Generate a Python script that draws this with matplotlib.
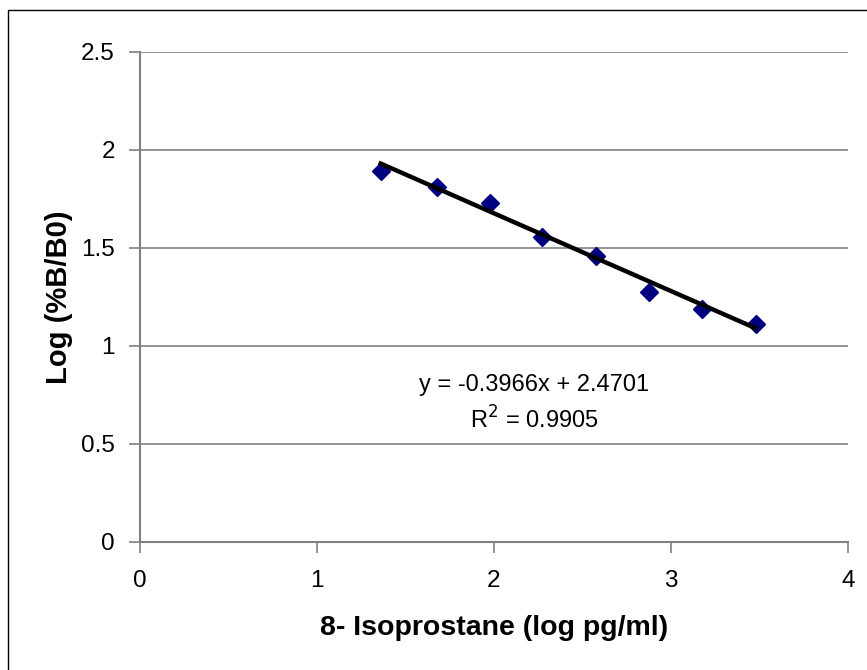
import numpy as np
import matplotlib.pyplot as plt
from matplotlib.patches import Rectangle

plt.rcParams['font.family'] = ['Liberation Sans', 'DejaVu Sans']

# standard curve points (log conc vs log %B/B0)
log_conc = [1.36, 1.68, 1.977, 2.269, 2.576, 2.877, 3.175, 3.48]
log_bb0 = [1.894, 1.813, 1.728, 1.558, 1.459, 1.277, 1.190, 1.111]

slope = -0.3966
intercept = 2.4701
r2 = 0.9905

x_ticks = [0, 1, 2, 3, 4]
y_ticks = [0, 0.5, 1, 1.5, 2, 2.5]

fig = plt.figure(figsize=(8.67, 6.70), dpi=100)
ax = fig.add_axes([140/867, 1 - 542/670, 708/867, 490/670])

# outer chart border (runs off the right / bottom edges)
fig.patches.append(Rectangle((8/867, -0.05), 1.0, 1 - 10/670 + 0.05,
                             transform=fig.transFigure, fill=False,
                             edgecolor='black', linewidth=1.0))

grey = '#808080'
for y in y_ticks[1:]:
    ax.axhline(y, color=grey, linewidth=1.2, zorder=0)

ax.plot(log_conc, log_bb0, linestyle='none', marker='D', markersize=9,
        color='#000080', zorder=2)

xf = np.array([log_conc[0], log_conc[-1]])
ax.plot(xf, slope * xf + intercept, color='black', linewidth=3.2, zorder=3)

ax.set_xlim(0, 4)
ax.set_ylim(0, 2.5)
ax.set_xticks(x_ticks)
ax.set_yticks(y_ticks)
ax.set_xticklabels([str(v) for v in x_ticks])
ax.set_yticklabels(['0', '0.5', '1', '1.5', '2', '2.5'])

for s in ['top', 'right']:
    ax.spines[s].set_visible(False)
for s in ['left', 'bottom']:
    ax.spines[s].set_color(grey)
    ax.spines[s].set_linewidth(1.5)

ax.tick_params(direction='out', length=8, width=1.2, color=grey,
               labelsize=17.5)
ax.tick_params(axis='y', pad=10)
ax.tick_params(axis='x', pad=12)

ax.set_xlabel('8- Isoprostane (log pg/ml)', fontsize=20.5, fontweight='bold',
              labelpad=17)
ax.set_ylabel('Log (%B/B0)', fontsize=21, fontweight='bold', labelpad=6)

ax.text(2.229, 0.80, 'y = -0.3966x + 2.4701', ha='center', va='center',
        fontsize=17)
ax.text(2.229, 0.62, r'R$^2$ = 0.9905', ha='center', va='center',
        fontsize=17)

fig.savefig('out.png', dpi=100)
